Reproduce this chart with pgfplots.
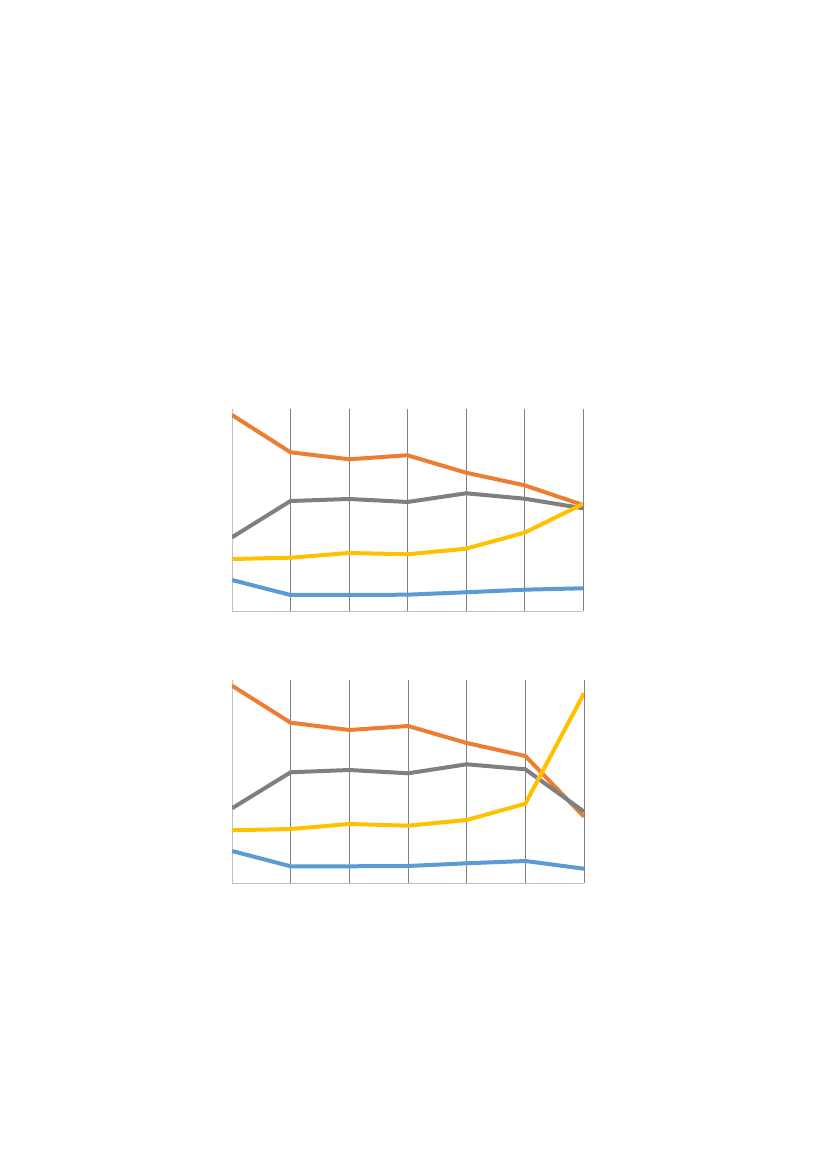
\documentclass[border=0pt]{standalone}
\usepackage{pgfplots}
\pgfplotsset{compat=1.18}
\definecolor{sorange}{HTML}{ED7D31}
\definecolor{sgray}{HTML}{7F7F7F}
\definecolor{syellow}{HTML}{FFC000}
\definecolor{sblue}{HTML}{5B9BD5}
\pgfplotsset{
    panel/.style={
        scale only axis,
        width=351pt, height=202pt,
        anchor=south west,
        xmin=0, xmax=6, ymin=0, ymax=202,
        axis lines*=left,
        axis line style={color=black!25, line width=0.8pt},
        xtick={1,2,3,4,5,6}, ytick=\empty,
        xticklabels={}, major tick length=0pt,
        xmajorgrids,
        major grid style={color=black!50, line width=0.8pt},
    },
    ser/.style={color=#1, line width=4pt, line join=round, mark=none},
}
\begin{document}
\begin{tikzpicture}[x=1pt,y=1pt]
    \path[fill=white] (0,0) rectangle (827,1169);
    % upper panel
    \begin{axis}[panel, at={(232pt,558pt)}]
        \addplot[ser=sblue] coordinates {(0,31) (1,16) (2,16) (3,16.3) (4,18.7) (5,21.3) (6,22.7)};
        \addplot[ser=sorange] coordinates {(0,196) (1,158.7) (2,151.7) (3,155.7) (4,138.3) (5,125.7) (6,106)};
        \addplot[ser=sgray] coordinates {(0,73.7) (1,110) (2,112) (3,109) (4,117.7) (5,112.3) (6,102.7)};
        \addplot[ser=syellow] coordinates {(0,52) (1,53.3) (2,58) (3,56.7) (4,62.3) (5,78.3) (6,107)};
    \end{axis}
    % lower panel
    \begin{axis}[panel, at={(232pt,286pt)}, width=352pt, height=203pt, ymax=203]
        \addplot[ser=sblue] coordinates {(0,32) (1,16.7) (2,16.7) (3,17) (4,19.7) (5,22) (6,14.3)};
        \addplot[ser=sorange] coordinates {(0,197.3) (1,160.3) (2,153) (3,157) (4,140) (5,127) (6,66.3)};
        \addplot[ser=sgray] coordinates {(0,74.7) (1,110.7) (2,113) (3,109.7) (4,118.7) (5,113.7) (6,71.3)};
        \addplot[ser=syellow] coordinates {(0,52.7) (1,54) (2,59) (3,57.3) (4,63) (5,79.3) (6,189.7)};
    \end{axis}
\end{tikzpicture}
\end{document}
